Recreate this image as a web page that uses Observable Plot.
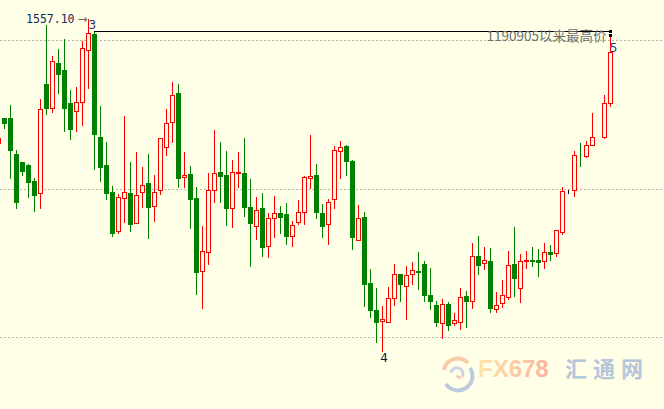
<!DOCTYPE html>
<html>
<head>
<meta charset="utf-8">
<script src="https://cdn.jsdelivr.net/npm/d3@7"></script>
<script src="https://cdn.jsdelivr.net/npm/@observablehq/plot@0.6"></script>
<style>
  html, body { margin: 0; padding: 0; background: #ffffe8; overflow: hidden; }
  #wrap { position: relative; width: 664px; height: 409px; overflow: hidden; background: #ffffe8; }
  #wm { position: absolute; left: 0; top: 0; pointer-events: none; }
  #wrap svg.candles line, #wrap svg.candles rect { shape-rendering: crispEdges; }
</style>
</head>
<body>
<div id="wrap"></div>
<script>
// ---- OHLC series (one candle per entry, oldest first) ----
const opens = [1515.4,1523.7,1523.7,1511.6,1508.9,1507.9,1502.5,1498.6,1535.2,1527.2,
  1542.3,1539.9,1528.8,1526.2,1529.2,1546.7,1552.0,1517.3,1507.9,1498.8,
  1485.6,1496.7,1498.5,1488.3,1498.7,1501.8,1494.0,1499.5,1513.9,1522.3,
  1532.2,1503.8,1504.8,1496.7,1472.1,1478.5,1499.4,1505.5,1504.4,1493.3,
  1505.1,1505.1,1493.7,1487.3,1493.3,1480.7,1490.0,1491.7,1491.3,1484.1,
  1488.6,1492.0,1503.4,1504.4,1491.7,1488.0,1496.4,1512.5,1514.2,1509.2,
  1482.6,1490.3,1468.1,1459.0,1455.5,1455.2,1463.0,1471.1,1467.1,1471.1,
  1472.1,1474.5,1464.0,1460.7,1454.8,1461.1,1454.6,1455.1,1463.8,1462.0,
  1477.2,1474.8,1475.5,1459.3,1461.3,1463.6,1474.5,1466.4,1475.5,1475.8,
  1475.8,1475.5,1478.5,1478.2,1485.3,1499.0,1499.4,1510.9,1511.1,1514.5,
  1517.2,1517.4,1528.7];
const highs = [1517.1,1523.7,1528.1,1513.0,1508.9,1508.2,1503.5,1530.1,1555.0,1544.6,
  1547.0,1550.3,1533.2,1534.2,1549.7,1557.1,1553.0,1527.8,1515.7,1500.8,
  1498.2,1524.4,1508.9,1512.3,1507.2,1511.6,1504.5,1516.9,1526.8,1535.9,
  1535.2,1512.3,1507.5,1500.4,1487.4,1505.1,1519.6,1515.7,1512.6,1509.6,
  1512.3,1516.9,1503.1,1497.0,1498.4,1491.7,1497.4,1494.0,1495.0,1489.0,
  1496.0,1504.2,1517.9,1508.2,1494.7,1496.4,1514.2,1515.9,1514.8,1509.5,
  1494.3,1492.0,1472.8,1466.4,1460.3,1467.0,1474.6,1471.1,1473.8,1475.2,
  1478.5,1475.5,1473.3,1462.0,1462.7,1461.9,1458.0,1466.4,1465.5,1481.5,
  1483.9,1480.3,1479.9,1465.1,1469.1,1478.9,1487.0,1477.8,1479.0,1480.2,
  1479.7,1481.5,1480.9,1485.9,1500.5,1499.6,1512.6,1515.3,1516.1,1525.3,
  1517.2,1531.5,1551.7];
const lows = [1515.4,1520.0,1503.2,1493.1,1504.2,1496.8,1492.1,1493.1,1524.7,1525.4,
  1531.8,1519.0,1516.3,1519.0,1521.0,1533.5,1506.2,1502.2,1496.1,1483.8,
  1484.6,1488.4,1485.5,1488.0,1493.3,1482.9,1488.6,1497.7,1510.9,1515.2,
  1500.1,1500.1,1486.5,1464.0,1459.3,1474.1,1495.2,1495.2,1487.5,1486.6,
  1500.1,1490.5,1473.7,1482.6,1476.8,1476.7,1483.2,1484.6,1481.1,1480.4,
  1487.6,1487.6,1499.7,1489.6,1483.2,1480.9,1493.2,1503.1,1504.1,1479.2,
  1482.2,1460.2,1456.4,1447.9,1445.0,1455.2,1460.5,1461.9,1455.8,1467.4,
  1465.7,1461.9,1459.0,1453.5,1449.4,1452.1,1453.8,1452.5,1453.1,1459.5,
  1471.0,1472.4,1458.2,1458.2,1459.7,1462.3,1463.6,1461.5,1472.8,1473.6,
  1470.1,1472.8,1475.5,1477.1,1484.2,1498.3,1497.0,1507.4,1510.4,1514.5,
  1517.2,1516.6,1527.5];
const closes = [1517.1,1522.2,1513.0,1495.5,1505.9,1502.2,1497.8,1526.8,1527.2,1542.9,
  1538.6,1527.2,1520.1,1529.1,1547.3,1552.4,1518.4,1507.2,1498.6,1485.1,
  1497.1,1498.8,1488.2,1497.7,1501.1,1493.7,1498.7,1516.9,1522.0,1531.4,
  1503.4,1504.4,1496.6,1471.8,1478.9,1499.4,1505.1,1504.3,1493.3,1505.5,
  1505.5,1493.7,1488.5,1492.7,1480.4,1490.0,1491.7,1490.5,1484.1,1487.6,
  1492.0,1503.8,1504.1,1492.2,1487.3,1495.4,1512.9,1513.9,1509.2,1483.8,
  1490.0,1468.0,1459.0,1455.2,1456.0,1463.0,1471.1,1467.7,1470.8,1472.5,
  1471.8,1464.0,1462.2,1455.1,1461.0,1454.1,1455.6,1463.4,1462.2,1477.2,
  1474.1,1475.8,1459.9,1460.7,1464.0,1474.1,1469.7,1475.5,1475.8,1475.5,
  1475.1,1478.5,1477.8,1485.9,1499.0,1499.0,1511.2,1510.8,1514.8,1517.3,
  1517.2,1528.7,1545.9];

// ---- reference levels and annotation texts ----
const gridLevels = [1550, 1500, 1450];
const peakPrice = "1557.10";
const resistanceLevel = 1553.0;
const resistanceText = "1190905以来最高价";
const waveLabels = ["3", "4", "5"];
const waveIndex = [15, 64, 102];       // candles the wave numbers belong to
const resistanceStart = 16;            // candle where the black level line begins

const bg = "#ffffe8";
const RED = "#ff0000", GREEN = "#008000", BLACK = "#000000";
const candles = opens.map((o, i) => ({i, o, h: highs[i], l: lows[i], c: closes[i]}));
const colorOf = d => d.c > d.o ? RED : d.c < d.o ? GREEN : BLACK;
const half = 2 / 6;   // half body width in candle units

const last = candles.length - 1;
const w3 = candles[waveIndex[0]], w4 = candles[waveIndex[1]], w5 = candles[waveIndex[2]];

const chart = Plot.plot({
  className: "candles",
  width: 664,
  height: 409,
  margin: 0,
  style: {background: bg, overflow: "hidden"},
  color: {type: "identity"},
  x: {type: "linear", domain: [1/3, 1/3 + 664/6], axis: null, round: true},
  y: {domain: [1425.76, 1563.47], axis: null, round: true},
  marks: [
    Plot.ruleY(gridLevels, {stroke: "#b8b8b0", strokeDasharray: "2,2"}),
    Plot.ruleX(candles, {x: "i", y1: "l", y2: "h", stroke: colorOf}),
    Plot.rect(candles, {
      x1: d => d.i - half, x2: d => d.i + half,
      y1: d => Math.min(d.o, d.c), y2: d => Math.max(d.o, d.c),
      insetLeft: 0.5, insetRight: -0.5, insetTop: 0.5, insetBottom: -0.5,
      fill: d => d.c > d.o ? bg : colorOf(d),
      stroke: colorOf
    }),
    Plot.ruleY([resistanceLevel], {x1: resistanceStart, x2: last, stroke: "#000"}),
    Plot.dot([{x: last, y: resistanceLevel}, {x: last, y: candles[last].h}],
      {x: "x", y: "y", symbol: "square", r: 1.7, fill: "#000"}),
    Plot.text([w3], {x: "i", y: "h", text: () => peakPrice, textAnchor: "end", dx: -14, dy: 0,
      fill: "#14285a", fontSize: 11.5, fontFamily: "DejaVu Sans Mono"}),
    Plot.text([w3], {x: "i", y: "h", text: () => "→", textAnchor: "end", dx: -1, dy: 0,
      fill: "#666", fontSize: 12, fontFamily: "DejaVu Sans"}),
    Plot.text([w3], {x: "i", y: "h", text: () => waveLabels[0], textAnchor: "start", dx: 0, dy: 6,
      fill: "#1f3560", fontSize: 12, fontFamily: "DejaVu Sans"}),
    Plot.text([w4], {x: "i", y: "l", text: () => waveLabels[1], textAnchor: "middle", dx: 1.5, dy: 6,
      fill: "#10183a", fontSize: 12, fontFamily: "DejaVu Sans"}),
    Plot.text([w5], {x: "i", y: "h", text: () => waveLabels[2], textAnchor: "middle", dx: 3, dy: 12.5,
      fill: "#1f3f70", fontSize: 12, fontFamily: "DejaVu Sans"}),
    Plot.text([{x: last, y: resistanceLevel}], {x: "x", y: "y", text: () => resistanceText,
      textAnchor: "end", dx: -4, dy: 5.5, fill: "#6e6e6e", fontSize: 13.5,
      fontFamily: "Noto Sans CJK SC"})
  ]
});

const wrap = document.getElementById("wrap");
wrap.appendChild(chart);

// ---- watermark ----
const ns = "http://www.w3.org/2000/svg";
const wm = document.createElementNS(ns, "svg");
wm.setAttribute("id", "wm");
wm.setAttribute("width", 664);
wm.setAttribute("height", 409);
wm.innerHTML = `
  <defs>
    <linearGradient id="fxg" x1="0" x2="1" y1="0" y2="0">
      <stop offset="0" stop-color="#fde4ad"/>
      <stop offset="1" stop-color="#f9b39c"/>
    </linearGradient>
  </defs>
  <g opacity="0.9">
    <path d="M 444 370 A 14 14 0 0 1 468 363" fill="none" stroke="#f6c6a4" stroke-width="4"/>
    <path d="M 470 368 A 14 14 0 0 1 446 384" fill="none" stroke="#b3c6da" stroke-width="4"/>
    <path d="M 451 373 A 6 6 0 1 1 462 377" fill="none" stroke="#c5d2e0" stroke-width="3"/>
    <path d="M 456 376 L 461 378" stroke="#f6c6a4" stroke-width="2.5"/>
  </g>
  <text x="478" y="377" font-family="Liberation Sans, Arial, sans-serif" font-weight="bold"
        font-size="24" fill="url(#fxg)">FX678</text>
  <text x="565" y="377" font-family="Noto Sans CJK SC" font-weight="bold" font-size="22"
        letter-spacing="6" fill="#b4c6db">汇通网</text>`;
wrap.appendChild(wm);
</script>
</body>
</html>
